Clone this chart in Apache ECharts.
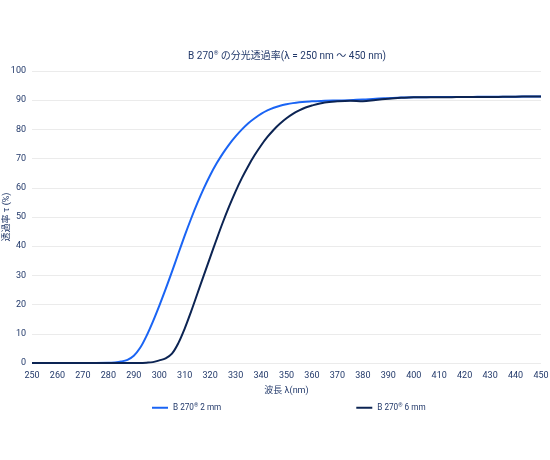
<!DOCTYPE html>
<html>
<head>
<meta charset="utf-8">
<script src="https://cdn.jsdelivr.net/npm/echarts@6/dist/echarts.min.js"></script>
<style>
html,body{margin:0;padding:0;background:#fff;}
#c{width:550px;height:460px;}
</style>
</head>
<body>
<div id="c"></div>
<script>
var wavelengths = [250,255,260,265,270,275,280,282.5,285,287.5,290,292.5,295,297.5,300,302.5,305,307.5,310,312.5,315,317.5,320,322.5,325,327.5,330,332.5,335,337.5,340,342.5,345,347.5,350,352.5,355,357.5,360,365,370,375,380,385,390,395,400,405,410,415,420,425,430,435,440,445,450];
var thin2mm = [0,0,0,0,0,0,0.05,0.2,0.5,1.1,2.5,5.2,9.3,14.2,19.6,25.3,31.3,37.5,43.6,49.4,54.8,59.8,64.3,68.3,71.8,74.9,77.6,80.0,82.1,83.8,85.3,86.5,87.4,88.1,88.6,89.0,89.3,89.5,89.6,89.8,89.9,90.0,90.2,90.5,90.7,90.9,91.0,91.05,91.1,91.1,91.1,91.15,91.2,91.2,91.2,91.25,91.3];
var thick6mm = [0,0,0,0,0,0,0,0,0,0,0,0,0.1,0.3,0.9,1.6,3.2,6.8,11.8,17.6,23.8,30.0,36.2,42.3,48.2,53.7,58.8,63.4,67.5,71.2,74.5,77.4,79.9,82.0,83.8,85.3,86.5,87.5,88.2,89.2,89.6,89.8,89.6,90.1,90.5,90.8,91.0,91.0,91.0,91.05,91.1,91.1,91.1,91.15,91.2,91.25,91.3];
var seriesNames = ['B 270® 2 mm', 'B 270® 6 mm'];
var legendParts = [['B 270', '2 mm'], ['B 270', '6 mm']];
var titleText = ['B 270', ' の分光透過率(λ = 250 nm 〜 450 nm)'];
var xName = '波長 λ(nm)';
var yName = '透過率 τ (%)';

function pairs(xs, ys){ return xs.map(function(x,i){ return [x, ys[i]]; }); }

var txt = '#22396a';
var font = 'Roboto, "Noto Sans CJK JP", sans-serif';
var chart = echarts.init(document.getElementById('c'));
chart.setOption({
  backgroundColor: '#fff',
  textStyle: { fontFamily: font },
  title: {
    text: '{a|' + titleText[0] + '}{s|®}{a|' + titleText[1] + '}',
    left: 282, top: 44, textAlign: 'center',
    textStyle: {
      fontWeight: 'normal',
      rich: {
        a: { fontSize: 10, color: txt, fontFamily: font, fontWeight: 'normal', lineHeight: 14 },
        s: { fontSize: 6, color: txt, fontFamily: font, fontWeight: 'normal', lineHeight: 14, padding: [0,0,6,0] }
      }
    }
  },
  legend: {
    bottom: 42, left: 147,
    itemGap: 135,
    itemWidth: 16, itemHeight: 2,
    icon: 'rect',
    data: seriesNames,
    formatter: function(n){
      var i = seriesNames.indexOf(n);
      return '{a|' + legendParts[i][0] + '}{s|®}{a| ' + legendParts[i][1] + '}';
    },
    textStyle: {
      rich: {
        a: { fontSize: 8.2, color: txt, fontFamily: font, lineHeight: 12 },
        s: { fontSize: 5.5, color: txt, fontFamily: font, padding: [0,0,5,0], lineHeight: 12 }
      }
    }
  },
  grid: { left: 32, right: 9, top: 71, bottom: 97, containLabel: false, outerBoundsMode: 'none' },
  xAxis: {
    type: 'value', min: 250, max: 450, interval: 10,
    name: xName, nameLocation: 'middle', nameGap: 23, nameMoveOverlap: false,
    nameTextStyle: { color: txt, fontSize: 9 },
    axisLine: { show: false }, axisTick: { show: false },
    axisLabel: { color: txt, fontSize: 9, margin: 8 },
    splitLine: { show: false }
  },
  yAxis: {
    type: 'value', min: 0, max: 100, interval: 10,
    name: yName, nameLocation: 'middle', nameGap: 21, nameRotate: 90, nameMoveOverlap: false,
    nameTextStyle: { color: txt, fontSize: 9 },
    axisLine: { show: false }, axisTick: { show: false },
    axisLabel: { color: txt, fontSize: 9, margin: 6 },
    splitLine: { lineStyle: { color: '#ebebeb', width: 1 } }
  },
  series: [
    { name: seriesNames[0], type: 'line', data: pairs(wavelengths, thin2mm), smooth: 0.35, showSymbol: false, symbol: 'none',
      lineStyle: { color: '#1a64f4', width: 2 }, itemStyle: { color: '#1a64f4' } },
    { name: seriesNames[1], type: 'line', data: pairs(wavelengths, thick6mm), smooth: 0.35, showSymbol: false, symbol: 'none',
      lineStyle: { color: '#0c2453', width: 2 }, itemStyle: { color: '#0c2453' } }
  ],
  animation: false
});
</script>
</body>
</html>
